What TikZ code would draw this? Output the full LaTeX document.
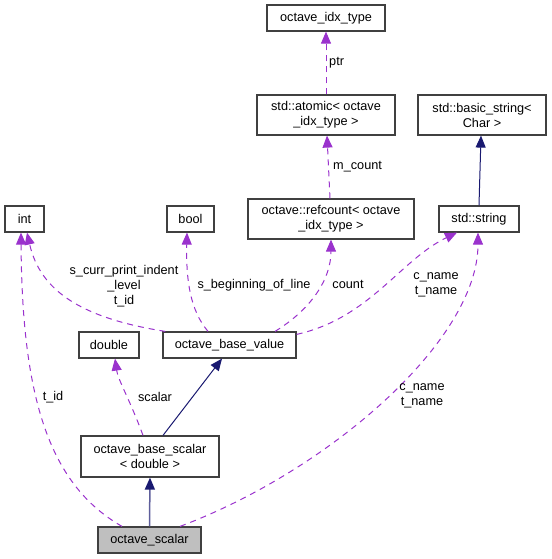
\documentclass[tikz,border=0pt]{standalone}
\usepackage{fontspec}
\setmainfont{Liberation Sans}
\usetikzlibrary{arrows.meta}
\definecolor{memberpurple}{HTML}{9A32CD}
\definecolor{basenavy}{HTML}{191970}

\begin{document}
\begin{tikzpicture}[x=1pt, y=-1pt]
		\tikzstyle{every node} = [font=\fontsize{12.7pt}{15pt}\selectfont]
		\tikzstyle{class} = [rectangle, draw=black!75, line width=1.2pt, fill=white, align=center, inner sep=0pt, minimum height=26pt]
		\tikzstyle{usage} = [draw=memberpurple, line width=1pt, dash pattern=on 6pt off 5pt, -{Triangle[length=12pt, width=10pt, fill=memberpurple]}]
		\tikzstyle{inherits} = [draw=basenavy, line width=1pt, -{Triangle[length=12pt, width=10pt, fill=basenavy]}]
		\tikzstyle{lbl} = [inner sep=0pt, align=center]
		\useasboundingbox (0,0) rectangle (551,559);

		% top classes
		\node[class, minimum width=118pt] (idx-type) at (326, 18) {octave\_idx\_type};
		\node[class, minimum width=138pt, minimum height=40pt] (atomic) at (326, 115) {std::atomic< octave\\\_idx\_type >};
		\node[class, minimum width=128pt, minimum height=40pt] (basic-string) at (482, 115) {std::basic\_string<\\Char >};

		% member types
		\node[class, minimum width=39pt] (int) at (24.5, 219) {int};
		\node[class, minimum width=47pt] (bool) at (190.5, 219) {bool};
		\node[class, minimum width=166pt, minimum height=40pt] (refcount) at (331, 219) {octave::refcount< octave\\\_idx\_type >};
		\node[class, minimum width=80pt] (string) at (479, 219) {std::string};
		\node[class, minimum width=60pt] (double) at (109, 345) {double};

		% class hierarchy
		\node[class, minimum width=133pt] (base-value) at (229.5, 345) {octave\_base\_value};
		\node[class, minimum width=138pt, minimum height=41pt] (base-scalar) at (150, 456.5) {octave\_base\_scalar\\< double >};
		\node[class, minimum width=103pt, fill=black!25] (scalar) at (149.5, 540) {octave\_scalar};

		% member connections
		\draw[usage] (atomic.north) -- (idx-type.south);
		\draw[usage] ([xshift=-1pt]refcount.north) -- ([xshift=1pt]atomic.south);
		\draw[usage] ([xshift=3pt]base-value.north west) .. controls (80, 318) and (40, 290) .. ([xshift=2.5pt]int.south);
		\draw[usage] ([xshift=-27.5pt]scalar.north) .. controls (50, 485) and (22, 400) .. ([xshift=-3.5pt]int.south);
		\draw[usage] ([xshift=-21.5pt]base-value.north) .. controls (190, 310) and (186, 280) .. ([xshift=-3.5pt]bool.south);
		\draw[usage] ([xshift=45.5pt]base-value.north) .. controls (310, 310) and (331, 280) .. (refcount.south);
		\draw[usage] ([yshift=-3pt]base-value.north east) .. controls (370, 318) and (400, 260) .. ([xshift=-22pt]string.south);
		\draw[usage] ([xshift=30.5pt]scalar.north) .. controls (330, 470) and (478, 340) .. ([xshift=-1pt]string.south);
		\draw[usage] ([xshift=-7pt]base-scalar.north) .. controls (130, 400) and (118, 380) .. ([xshift=6pt]double.south);

		% inheritance connections
		\draw[inherits] (string.north) -- ([xshift=-1pt]basic-string.south);
		\draw[inherits] ([xshift=13pt]base-scalar.north) -- ([xshift=-7.5pt]base-value.south);
		\draw[inherits, draw=basenavy!70, line width=1.5pt, -{Triangle[length=12pt, width=10pt, color=basenavy, fill=basenavy]}] (scalar.north) -- (base-scalar.south);

		% annotations
		\node[lbl, anchor=west] (lbl-ptr) at (329, 63) {ptr};
		\node[lbl, anchor=west] (lbl-m-count) at (333, 167) {m\_count};
		\node[lbl] (lbl-int) at (124, 286) {s\_curr\_print\_indent\\\_level\\t\_id};
		\node[lbl] (lbl-t-id) at (53, 397) {t\_id};
		\node[lbl] (lbl-bool) at (254, 285) {s\_beginning\_of\_line};
		\node[lbl] (lbl-count) at (348, 284) {count};
		\node[lbl] (lbl-string-value) at (436, 285) {c\_name\\t\_name};
		\node[lbl] (lbl-string-scalar) at (422, 396) {c\_name\\t\_name};
		\node[lbl] (lbl-scalar) at (155, 397) {scalar};
	\end{tikzpicture}
\end{document}
